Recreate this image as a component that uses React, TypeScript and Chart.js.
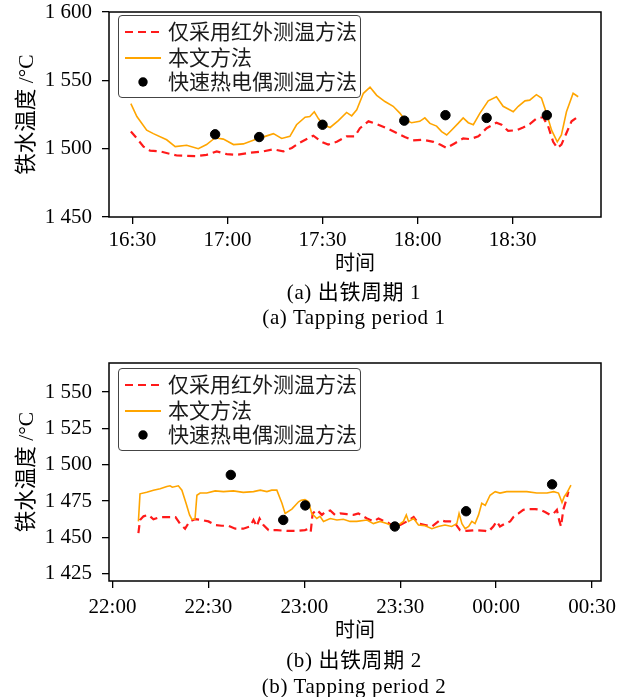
import React, { useEffect, useRef } from 'react';
import { Chart, registerables } from 'chart.js';
Chart.register(...registerables);

// ---------- chart (a): tapping period 1 (minutes after 16:30) ----------
const topTickMinutes = [0, 30, 60, 90, 120];
const topTickLabels = ['16:30', '17:00', '17:30', '18:00', '18:30'];
const topYTicks = [1450, 1500, 1550, 1600];

const topInfraredMin = [-0.5, 1.4, 3.5, 5.6, 8.7, 14.0, 20.3, 23.4, 26.6, 29.8, 32.9, 37.1, 41.3, 44.5, 47.6, 50.3, 52.9, 57.1, 59.7, 61.8, 64.5, 67.6, 70.2, 71.8, 74.5, 77.1, 80.2, 83.4, 86.0, 88.6, 91.8, 95.0, 97.1, 99.2, 101.8, 104.4, 106.5, 109.2, 111.8, 114.9, 116.5, 118.6, 121.2, 123.3, 125.4, 127.5, 129.6, 131.2, 132.8, 134.1, 135.4, 137.0, 138.6, 140.7];
const topInfrared = [1512.5, 1507.5, 1501.5, 1498.5, 1498, 1495, 1494.5, 1495.5, 1498, 1496, 1495.5, 1497, 1498, 1499.5, 1498, 1500.5, 1504.5, 1509.5, 1505, 1503, 1505, 1509, 1509, 1515, 1520, 1518, 1515, 1511.5, 1508.5, 1506, 1506.5, 1505, 1503, 1500.5, 1504, 1507.5, 1507, 1509, 1515, 1519, 1517.5, 1513, 1513.5, 1515.5, 1518, 1522, 1523, 1516.5, 1505, 1500.5, 1503, 1511.5, 1520, 1523.5];

const topProposedMin = [-0.5, 1.4, 4.5, 6.6, 10.8, 13.5, 17.1, 20.8, 23.4, 26.1, 28.7, 31.9, 35.0, 39.2, 41.9, 44.5, 47.1, 49.7, 51.8, 54.5, 56.0, 57.4, 58.7, 60.2, 62.4, 65.0, 67.6, 69.2, 70.8, 72.9, 75.0, 77.1, 79.7, 82.3, 84.4, 86.0, 88.1, 90.7, 92.3, 93.9, 96.0, 97.6, 99.2, 100.7, 102.8, 104.4, 106.0, 107.6, 109.7, 112.3, 114.9, 117.0, 118.6, 120.2, 121.8, 123.9, 125.4, 127.5, 129.1, 130.7, 132.3, 134.1, 135.4, 137.0, 139.1, 140.7];
const topProposed = [1533, 1523.5, 1513.5, 1511, 1506.5, 1501.5, 1502.5, 1500, 1503, 1508, 1507, 1503, 1503.5, 1507, 1509, 1511, 1507.5, 1509, 1517.5, 1523, 1523.5, 1527, 1522, 1517.5, 1515.5, 1520.5, 1526.5, 1524, 1528.5, 1540.5, 1545, 1539, 1534.5, 1531, 1526, 1521, 1519, 1520, 1522.5, 1518.5, 1516.5, 1512.5, 1510, 1513.5, 1518.5, 1522.5, 1519, 1517.5, 1526, 1535, 1538, 1531, 1529, 1527, 1531, 1535, 1535.5, 1539.5, 1537, 1526, 1513.5, 1505, 1510, 1527, 1540.5, 1538];

const topThermoMin = [26.1, 40.0, 60.0, 85.8, 98.8, 111.8, 130.8];
const topThermo = [1510.5, 1508.5, 1517.5, 1520.5, 1524.5, 1522.5, 1524.5];

// ---------- chart (b): tapping period 2 (minutes after 22:00) ----------
const botTickMinutes = [0, 30, 60, 90, 120, 150];
const botTickLabels = ['22:00', '22:30', '23:00', '23:30', '00:00', '00:30'];
const botYTicks = [1425, 1450, 1475, 1500, 1525, 1550];

const botInfraredMin = [8.1, 8.6, 9.7, 11.2, 12.8, 14.9, 17.0, 19.0, 19.7, 21.1, 22.7, 24.1, 25.8, 27.9, 30.0, 32.1, 34.2, 36.3, 38.4, 40.9, 43.0, 44.1, 45.1, 46.0, 47.2, 48.8, 51.4, 54.5, 57.7, 60.2, 61.3, 62.0, 62.6, 63.9, 65.5, 66.5, 68.1, 69.6, 71.2, 73.3, 75.4, 76.9, 79.6, 81.6, 83.2, 84.7, 86.3, 87.9, 90.0, 92.1, 94.2, 95.7, 97.8, 99.9, 102.5, 104.0, 105.6, 107.2, 108.7, 110.8, 113.4, 116.6, 117.6, 119.1, 120.2, 121.2, 122.8, 124.4, 125.4, 127.0, 128.5, 130.1, 132.2, 133.7, 135.3, 136.9, 138.0, 139.0, 139.8, 140.3, 141.0, 141.9, 142.6];
const botInfrared = [1453, 1462, 1464.5, 1465.5, 1462.5, 1464, 1464, 1464, 1464, 1459.5, 1456, 1461, 1462.5, 1462, 1461, 1458.5, 1458, 1458, 1456, 1456, 1457.5, 1462, 1457.5, 1463, 1458.5, 1455, 1455, 1454.5, 1454.5, 1455, 1456, 1454, 1466.5, 1469, 1465.5, 1467.5, 1468.5, 1465.5, 1466.5, 1466, 1465.5, 1466.5, 1463, 1461, 1463, 1461.5, 1460, 1457.5, 1458.5, 1461, 1464, 1459.5, 1458.5, 1457.5, 1462, 1461, 1461, 1459.5, 1455, 1454.5, 1455, 1454.5, 1454, 1457.5, 1461, 1457.5, 1459.5, 1461, 1464, 1466.5, 1469, 1469.5, 1469.5, 1469, 1467.5, 1465.5, 1466.5, 1469, 1461, 1457.5, 1469, 1475.5, 1481.5];

const botProposedMin = [8.1, 8.6, 10.7, 12.8, 14.9, 17.0, 18.0, 18.7, 20.6, 21.7, 23.0, 24.1, 24.8, 25.8, 26.4, 27.4, 29.5, 32.1, 34.7, 37.8, 40.9, 44.1, 46.2, 48.3, 49.8, 51.4, 53.0, 54.0, 56.1, 58.2, 59.0, 60.2, 61.3, 62.3, 63.9, 64.9, 66.0, 68.1, 70.2, 72.2, 74.3, 76.4, 79.6, 81.6, 83.7, 85.8, 87.9, 89.4, 91.0, 91.9, 92.6, 94.2, 95.7, 97.8, 99.9, 101.9, 104.0, 106.1, 107.7, 108.4, 109.3, 110.3, 111.4, 112.4, 113.4, 114.5, 115.5, 116.6, 118.1, 119.7, 121.2, 123.3, 126.5, 129.6, 132.7, 135.9, 138.0, 139.5, 140.6, 141.3, 142.1, 143.4];
const botProposed = [1461, 1480, 1481, 1482.5, 1483.5, 1485, 1485.5, 1484.5, 1485.5, 1482.5, 1473.5, 1465.5, 1462.5, 1462.5, 1479, 1480.5, 1480.5, 1482, 1481.5, 1482, 1481, 1481.5, 1482.5, 1481.5, 1482.5, 1482.5, 1473.5, 1466.5, 1469.5, 1474.5, 1475.5, 1476, 1474.5, 1466.5, 1463, 1464.5, 1461, 1463, 1462, 1462.5, 1461, 1461, 1462, 1459.5, 1461, 1459.5, 1457.5, 1458.5, 1461, 1465.5, 1461, 1463, 1458.5, 1458, 1456, 1457.5, 1458.5, 1457.5, 1459.5, 1466.5, 1459.5, 1456, 1457.5, 1461, 1459.5, 1465.5, 1473.5, 1472, 1479, 1481.5, 1480.5, 1481.5, 1481.5, 1481.5, 1480.5, 1480.5, 1481.5, 1480.5, 1474, 1478, 1480.5, 1486];

const botThermoMin = [37.0, 53.4, 60.3, 88.3, 110.6, 137.5];
const botThermo = [1493, 1462, 1472, 1457.5, 1468, 1486.5];

const seriesNames = ['仅采用红外测温方法', '本文方法', '快速热电偶测温方法'];
const xTitle = '时间';
const yTitle = '铁水温度 /°C';

const RED = '#ff1a1a';
const ORANGE = '#ffa500';
const FONT = "'Liberation Serif', 'Noto Sans CJK SC', serif";
const CJK = "'Liberation Serif', 'Noto Sans CJK SC', sans-serif";

const framePlugin = {
  id: 'frame',
  afterDraw(chart: any) {
    const { ctx, chartArea: a } = chart;
    ctx.save();
    ctx.strokeStyle = '#000';
    ctx.lineWidth = 1.5;
    ctx.strokeRect(a.left, a.top, a.right - a.left, a.bottom - a.top);
    ctx.restore();
  },
};

const pts = (xs: number[], ys: number[]) => xs.map((x, i) => ({ x, y: ys[i] }));
const thousands = (v: number) => String(v).replace(/\B(?=(\d{3})+(?!\d))/g, ' ');

type Cfg = {
  padTop: number;
  xHeight: number;
  xMin: number; xMax: number;
  yMin: number; yMax: number;
  tickMin: number[]; tickLab: string[]; yTicks: number[];
  inf: [number[], number[]]; prop: [number[], number[]]; thermo: [number[], number[]];
  xTitlePad: number; xTickPad: number;
};

function makeChart(canvas: HTMLCanvasElement, c: Cfg) {
  return new Chart(canvas, {
    type: 'line',
    data: {
      datasets: [
        {
          type: 'scatter',
          label: seriesNames[2],
          data: pts(c.thermo[0], c.thermo[1]),
          backgroundColor: '#000',
          borderColor: '#000',
          pointRadius: 4.7,
          order: 0,
        } as any,
        {
          label: seriesNames[1],
          data: pts(c.prop[0], c.prop[1]),
          borderColor: ORANGE,
          borderWidth: 1.6,
          pointRadius: 0,
          tension: 0,
          order: 1,
        },
        {
          label: seriesNames[0],
          data: pts(c.inf[0], c.inf[1]),
          borderColor: RED,
          borderWidth: 2.2,
          borderDash: [8, 5],
          pointRadius: 0,
          tension: 0,
          order: 2,
        },
      ],
    },
    options: {
      animation: false,
      responsive: false,
      devicePixelRatio: 1,
      layout: { padding: { left: 0, top: c.padTop, right: 25, bottom: 0 } },
      plugins: { legend: { display: false }, tooltip: { enabled: false } },
      scales: {
        x: {
          type: 'linear',
          min: c.xMin,
          max: c.xMax,
          afterBuildTicks: (s: any) => { s.ticks = c.tickMin.map((v) => ({ value: v })); },
          afterFit: (s: any) => { s.height = c.xHeight; s.paddingLeft = 0; s.paddingRight = 0; },
          grid: { display: true, drawOnChartArea: false, drawTicks: true, tickLength: 7, color: '#000', lineWidth: 1.3 },
          border: { display: false },
          ticks: {
            color: '#000',
            padding: c.xTickPad,
            maxRotation: 0,
            font: { family: FONT, size: 21 },
            callback: (v: any) => c.tickLab[c.tickMin.indexOf(Number(v))] ?? '',
          },
          title: { display: true, text: xTitle, color: '#000', font: { family: CJK, size: 20 }, padding: { top: 0, bottom: c.xTitlePad } },
        },
        y: {
          type: 'linear',
          min: c.yMin,
          max: c.yMax,
          afterBuildTicks: (s: any) => { s.ticks = c.yTicks.map((v) => ({ value: v })); },
          afterFit: (s: any) => { s.width = 109; s.paddingTop = 0; s.paddingBottom = 0; },
          grid: { display: true, drawOnChartArea: false, drawTicks: true, tickLength: 7, color: '#000', lineWidth: 1.3 },
          border: { display: false },
          ticks: {
            color: '#000',
            padding: 10,
            font: { family: FONT, size: 21 },
            callback: (v: any) => thousands(Number(v)),
          },
          title: { display: true, text: yTitle, color: '#000', font: { family: CJK, size: 21.5 }, padding: { top: 14, bottom: 0 } },
        },
      },
    },
    plugins: [framePlugin],
  } as any);
}

function Legend({ top }: { top: number }) {
  const row = (y: number, sample: React.ReactNode, text: string) => (
    <div style={{ position: 'absolute', left: 0, top: y - 14, height: 28, width: '100%' }}>
      <svg width={40} height={28} style={{ position: 'absolute', left: 4, top: 0 }}>{sample}</svg>
      <div style={{ position: 'absolute', left: 49, top: 0, lineHeight: '28px', fontSize: 21, fontFamily: CJK, color: '#1a1a1a', whiteSpace: 'nowrap' }}>{text}</div>
    </div>
  );
  return (
    <div style={{ position: 'absolute', left: 118, top, width: 243, height: 83, border: '1.3px solid #444', borderRadius: 4, background: 'rgba(255,255,255,0.85)', boxSizing: 'border-box' }}>
      {row(16, <line x1={2} y1={14} x2={38} y2={14} stroke={RED} strokeWidth={2.2} strokeDasharray="8 5" />, seriesNames[0])}
      {row(42, <line x1={2} y1={14} x2={38} y2={14} stroke={ORANGE} strokeWidth={2} />, seriesNames[1])}
      {row(66, <circle cx={20} cy={14} r={4.7} fill="#000" />, seriesNames[2])}
    </div>
  );
}

function Caption({ y, text }: { y: number; text: string }) {
  return (
    <div style={{ position: 'absolute', left: 154, width: 400, top: y - 13, lineHeight: '26px', textAlign: 'center', fontFamily: FONT, fontSize: 21, letterSpacing: 0.6, color: '#000', whiteSpace: 'nowrap' }}>{text}</div>
  );
}

export default function App() {
  const topRef = useRef<HTMLCanvasElement>(null);
  const botRef = useRef<HTMLCanvasElement>(null);
  useEffect(() => {
    const a = makeChart(topRef.current!, {
      padTop: 12, xHeight: 63,
      xMin: -7.4, xMax: 147.9, yMin: 1450, yMax: 1600,
      tickMin: topTickMinutes, tickLab: topTickLabels, yTicks: topYTicks,
      inf: [topInfraredMin, topInfrared], prop: [topProposedMin, topProposed], thermo: [topThermoMin, topThermo],
      xTitlePad: 3, xTickPad: 4,
    });
    const b = makeChart(botRef.current!, {
      padTop: 13, xHeight: 69,
      xMin: -1.1, xMax: 152.8, yMin: 1420, yMax: 1570,
      tickMin: botTickMinutes, tickLab: botTickLabels, yTicks: botYTicks,
      inf: [botInfraredMin, botInfrared], prop: [botProposedMin, botProposed], thermo: [botThermoMin, botThermo],
      xTitlePad: 6, xTickPad: 7,
    });
    return () => { a.destroy(); b.destroy(); };
  }, []);
  return (
    <div style={{ position: 'absolute', left: 0, top: 0, width: 626, height: 697, background: '#fff', overflow: 'hidden' }}>
      <canvas ref={topRef} width={626} height={280} style={{ position: 'absolute', left: 0, top: 0 }} />
      <canvas ref={botRef} width={626} height={300} style={{ position: 'absolute', left: 0, top: 350 }} />
      <Legend top={15} />
      <Legend top={368} />
      <Caption y={292} text="(a) 出铁周期 1" />
      <Caption y={317} text="(a) Tapping period 1" />
      <Caption y={660} text="(b) 出铁周期 2" />
      <Caption y={686} text="(b) Tapping period 2" />
    </div>
  );
}
